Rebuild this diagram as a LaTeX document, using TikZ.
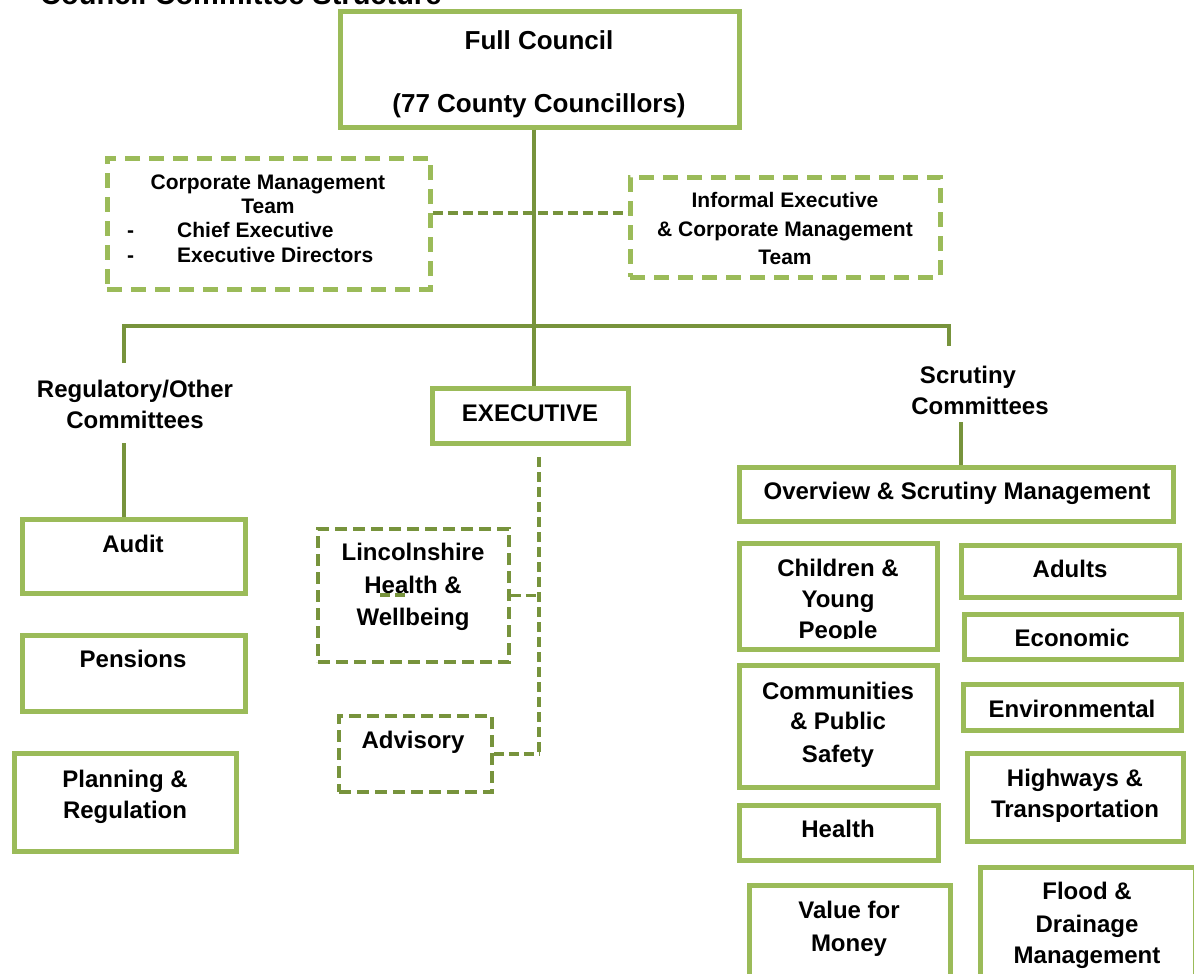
\documentclass[tikz,border=0pt]{standalone}
\usepackage{fontspec}
\setmainfont{Liberation Sans}
\usetikzlibrary{fit}
\definecolor{lgreen}{HTML}{9BBB59}
\definecolor{dgreen}{HTML}{77933C}
\begin{document}
\begin{tikzpicture}[x=1pt,y=-1pt,
 box/.style={draw=lgreen, line width=5pt, inner sep=0pt, rectangle},
 ldbox/.style={draw=lgreen, line width=5pt, inner sep=0pt, rectangle, dash pattern=on 15pt off 9pt},
 ddbox/.style={draw=dgreen, line width=3.5pt, inner sep=0pt, rectangle, dash pattern=on 12pt off 6pt},
 conn/.style={draw=dgreen, line width=3.5pt},
 dconn/.style={draw=dgreen, line width=3.2pt, dash pattern=on 10pt off 5pt},
 lbl/.style={inner sep=0pt, anchor=base, font=\fontsize{24}{29}\selectfont\bfseries},
 slbl/.style={lbl, font=\fontsize{21}{25}\selectfont\bfseries},
 blbl/.style={lbl, font=\fontsize{26}{31}\selectfont\bfseries},
]
\useasboundingbox (0,0) rectangle (1194,974);
\fill[white] (0,0) rectangle (1194,974);

% title (cut at top, as in the reference)
\node[lbl, anchor=base west, font=\fontsize{29}{34}\selectfont\bfseries] (title) at (40,5) {Council Committee Structure};

% ---------- boxes ----------
\node[box, fit={(340,12)(739,127)}] (fc) {};
\node[ldbox, fit={(107,158)(430,289)}] (cmt) {};
\node[ldbox, fit={(630,177)(940,277)}] (iec) {};
\node[box, fit={(432,388)(628,443)}] (exec) {};
\node[box, fit={(22,519)(245,593)}] (audit) {};
\node[box, fit={(22,635)(245,711)}] (pens) {};
\node[box, fit={(14,753)(236,851)}] (plan) {};
\node[ddbox, fit={(318,529)(509,662)}] (linc) {};
\node[ddbox, fit={(339,716)(492,792)}] (adv) {};
\node[box, fit={(739,467)(1173,521)}] (ovw) {};
\node[box, fit={(739,543)(937,649)}] (cyp) {};
\node[box, fit={(961,545)(1179,597)}] (adults) {};
\node[box, fit={(964,614)(1181,659)}] (econ) {};
\node[box, fit={(739,665)(937,787)}] (comm) {};
\node[box, fit={(963,684)(1181,730)}] (env) {};
\node[box, fit={(967,753)(1183,841)}] (hwy) {};
\node[box, fit={(739,805)(938,860)}] (health) {};
\node[box, fit={(749,885)(950,990)}] (vfm) {};
\node[box, fit={(980,867)(1195,990)}] (flood) {};

% ---------- labels ----------
\node[blbl] (fc1) at (539,49) {Full Council};
\node[blbl] (fc2) at (539,112) {(77 County Councillors)};

\node[slbl] (cmt1) at (268,189) {Corporate Management};
\node[slbl] (cmt2) at (268,213) {Team};
\node[slbl, anchor=base west] (cmt3d) at (127,237) {-};
\node[slbl, anchor=base west] (cmt3) at (177,237) {Chief Executive};
\node[slbl, anchor=base west] (cmt4d) at (127,262) {-};
\node[slbl, anchor=base west] (cmt4) at (177,262) {Executive Directors};

\node[slbl] (iec1) at (785,207) {Informal Executive};
\node[slbl] (iec2) at (785,236) {\& Corporate Management};
\node[slbl] (iec3) at (785,264) {Team};

\node[lbl] (reg1) at (135,397) {Regulatory/Other};
\node[lbl] (reg2) at (135,428) {Committees};
\node[lbl] (execl) at (530,421) {EXECUTIVE};
\node[lbl] (scr1) at (968,383) {Scrutiny};
\node[lbl] (scr2) at (980,414) {Committees};

\node[lbl] (auditl) at (133,552) {Audit};
\node[lbl] (pensl) at (133,667) {Pensions};
\node[lbl] (plan1) at (125,787) {Planning \&};
\node[lbl] (plan2) at (125,818) {Regulation};

\node[lbl] (linc1) at (413,560) {Lincolnshire};
\node[lbl] (linc2) at (413,593) {Health \&};
\node[lbl] (linc3) at (413,625) {Wellbeing};
\node[lbl] (advl) at (413,748) {Advisory};

\node[lbl] (ovwl) at (957,499) {Overview \& Scrutiny Management};
\node[lbl] (cyp1) at (838,576) {Children \&};
\node[lbl] (cyp2) at (838,607) {Young};
\begin{scope}
\clip (745,540) rectangle (935,638);
\node[lbl] (cyp3) at (838,638) {People};
\end{scope}
\node[lbl] (adultsl) at (1070,577) {Adults};
\node[lbl] (econl) at (1072,646) {Economic};
\node[lbl] (comm1) at (838,699) {Communities};
\node[lbl] (comm2) at (838,729) {\& Public};
\node[lbl] (comm3) at (838,762) {Safety};
\node[lbl] (envl) at (1072,717) {Environmental};
\node[lbl] (hwy1) at (1075,786) {Highways \&};
\node[lbl] (hwy2) at (1075,817) {Transportation};
\node[lbl] (healthl) at (838,837) {Health};
\node[lbl] (vfm1) at (849,918) {Value for};
\node[lbl] (vfm2) at (849,951) {Money};
\node[lbl] (flood1) at (1087,899) {Flood \&};
\node[lbl] (flood2) at (1087,932) {Drainage};
\node[lbl] (flood3) at (1087,963) {Management};

% ---------- connectors ----------
\coordinate (hub) at (534,326);
\coordinate (hl) at (124,326);
\coordinate (hr) at (949,326);
\coordinate (regtop) at (124,363);
\coordinate (regbot) at (124,443);
\coordinate (scrtop) at (949,346);
\coordinate (scrbot) at (961,422);
\coordinate (exbot) at (539,457);
\coordinate (exend) at (539,756);

\draw[conn] (fc.south -| hub) -- (exec.north -| hub);
\draw[conn] (regtop) -- (hl) -- (hr) -- (scrtop);
\draw[conn] (regbot) -- (audit.north -| regbot);
\draw[conn] (scrbot) -- (ovw.north -| scrbot);

\draw[dconn] (cmt.east |- 0,213) -- (iec.west |- 0,213);
\draw[dconn] (exbot) -- (exend);
\draw[dconn] (linc.east) -- (linc.east -| exbot);
\draw[dconn] (adv.east) -- (adv.east -| exend);
\draw[dconn] (380,595) -- (407,595);
\end{tikzpicture}
\end{document}
